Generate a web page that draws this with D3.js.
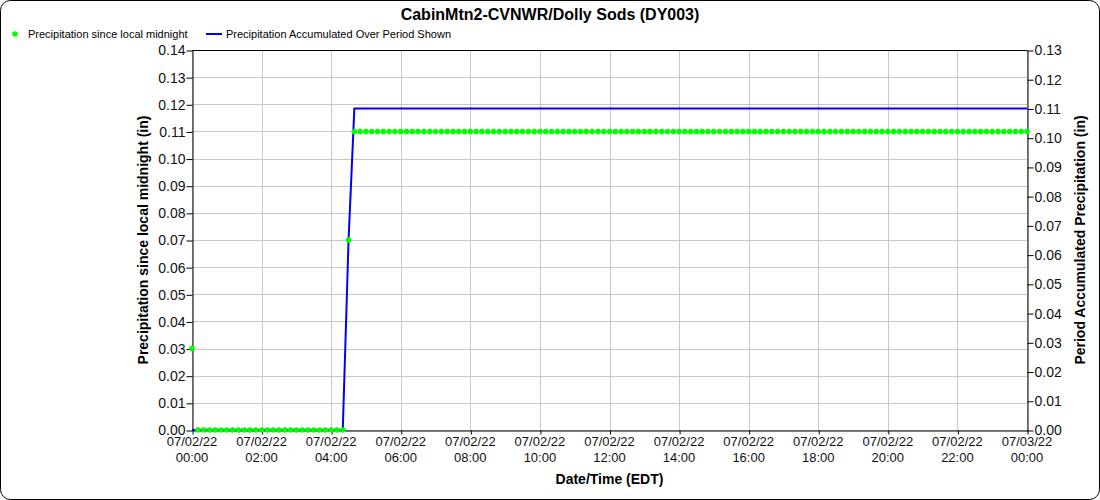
<!DOCTYPE html>
<html>
<head>
<meta charset="utf-8">
<script src="https://cdn.jsdelivr.net/npm/d3@7"></script>
<style>
  html, body { margin: 0; padding: 0; background: #fff; }
  svg { display: block; font-family: "Liberation Sans", Arial, sans-serif; }
</style>
</head>
<body>
<svg id="chart" width="1100" height="500"></svg>
<script>
// ---- data ----
const chartTitle = "CabinMtn2-CVNWR/Dolly Sods (DY003)";
const seriesNames = ["Precipitation since local midnight", "Precipitation Accumulated Over Period Shown"];
const startTime = "2022-07-02T00:00:00";
const endTime = "2022-07-03T00:00:00";
const stepMinutes = 10;
// Precipitation since local midnight (in), every 10 minutes from 07/02/22 00:00
const sinceMidnight = [
  0.03,0,0,0,0,0,0,0,0,0,0,0,0,0,0,0,0,0,0,0,0,0,0,0,0,0,0,
  0.07,
  0.11,0.11,0.11,0.11,0.11,0.11,0.11,0.11,0.11,0.11,0.11,0.11,0.11,0.11,0.11,0.11,0.11,0.11,0.11,0.11,
  0.11,0.11,0.11,0.11,0.11,0.11,0.11,0.11,0.11,0.11,0.11,0.11,0.11,0.11,0.11,0.11,0.11,0.11,0.11,0.11,
  0.11,0.11,0.11,0.11,0.11,0.11,0.11,0.11,0.11,0.11,0.11,0.11,0.11,0.11,0.11,0.11,0.11,0.11,0.11,0.11,
  0.11,0.11,0.11,0.11,0.11,0.11,0.11,0.11,0.11,0.11,0.11,0.11,0.11,0.11,0.11,0.11,0.11,0.11,0.11,0.11,
  0.11,0.11,0.11,0.11,0.11,0.11,0.11,0.11,0.11,0.11,0.11,0.11,0.11,0.11,0.11,0.11,0.11,0.11,0.11,0.11,
  0.11,0.11,0.11,0.11,0.11,0.11,0.11,0.11,0.11,0.11,0.11,0.11,0.11,0.11,0.11,0.11,0.11
];
// Precipitation accumulated over period shown (in), same timestamps
const accumulated = [
  0,0,0,0,0,0,0,0,0,0,0,0,0,0,0,0,0,0,0,0,0,0,0,0,0,0,0,
  0.065,
  0.11,0.11,0.11,0.11,0.11,0.11,0.11,0.11,0.11,0.11,0.11,0.11,0.11,0.11,0.11,0.11,0.11,0.11,0.11,0.11,
  0.11,0.11,0.11,0.11,0.11,0.11,0.11,0.11,0.11,0.11,0.11,0.11,0.11,0.11,0.11,0.11,0.11,0.11,0.11,0.11,
  0.11,0.11,0.11,0.11,0.11,0.11,0.11,0.11,0.11,0.11,0.11,0.11,0.11,0.11,0.11,0.11,0.11,0.11,0.11,0.11,
  0.11,0.11,0.11,0.11,0.11,0.11,0.11,0.11,0.11,0.11,0.11,0.11,0.11,0.11,0.11,0.11,0.11,0.11,0.11,0.11,
  0.11,0.11,0.11,0.11,0.11,0.11,0.11,0.11,0.11,0.11,0.11,0.11,0.11,0.11,0.11,0.11,0.11,0.11,0.11,0.11,
  0.11,0.11,0.11,0.11,0.11,0.11,0.11,0.11,0.11,0.11,0.11,0.11,0.11,0.11,0.11,0.11,0.11
];
const leftTicks = [0,0.01,0.02,0.03,0.04,0.05,0.06,0.07,0.08,0.09,0.10,0.11,0.12,0.13,0.14];
const rightTicks = [0,0.01,0.02,0.03,0.04,0.05,0.06,0.07,0.08,0.09,0.10,0.11,0.12,0.13];
const xTickHours = [0,2,4,6,8,10,12,14,16,18,20,22,24];
const leftLabel = "Precipitation since local midnight (in)";
const rightLabel = "Period Accumulated Precipitation (in)";
const xLabel = "Date/Time (EDT)";

// ---- layout ----
const svg = d3.select("#chart");
const M = { left: 192, right: 1027, top: 50, bottom: 430 };
const t0 = new Date(startTime), t1 = new Date(endTime);
const times = sinceMidnight.map((_, i) => new Date(t0.getTime() + i * stepMinutes * 60000));

const x = d3.scaleTime().domain([t0, t1]).range([M.left, M.right]);
const yL = d3.scaleLinear().domain([0, 0.14]).range([M.bottom, M.top]);
const yR = d3.scaleLinear().domain([0, 0.13]).range([M.bottom, M.top]);

// outer border
svg.append("rect").attr("x", 0.5).attr("y", 0.5).attr("width", 1099).attr("height", 499)
  .attr("rx", 10).attr("fill", "#fff").attr("stroke", "#000");

// title
svg.append("text").attr("x", 550).attr("y", 20).attr("text-anchor", "middle")
  .attr("font-size", 16).attr("font-weight", "bold").text(chartTitle);

// legend
svg.append("circle").attr("cx", 15).attr("cy", 34).attr("r", 2.8).attr("fill", "#00ff00");
svg.append("text").attr("x", 28).attr("y", 38).attr("font-size", 11).text(seriesNames[0]);
svg.append("line").attr("x1", 206).attr("x2", 222).attr("y1", 34).attr("y2", 34)
  .attr("stroke", "#0000ff").attr("stroke-width", 2);
svg.append("text").attr("x", 226).attr("y", 38).attr("font-size", 11).text(seriesNames[1]);

// gridlines
const tickDates = xTickHours.map(h => new Date(t0.getTime() + h * 3600000));
svg.append("g").selectAll("line").data(leftTicks).join("line")
  .attr("x1", M.left).attr("x2", M.right)
  .attr("y1", d => Math.round(yL(d)) + 0.5).attr("y2", d => Math.round(yL(d)) + 0.5)
  .attr("stroke", "#c8c8c8");
svg.append("g").selectAll("line").data(tickDates).join("line")
  .attr("x1", d => Math.round(x(d)) + 0.5).attr("x2", d => Math.round(x(d)) + 0.5)
  .attr("y1", M.top).attr("y2", M.bottom)
  .attr("stroke", "#c8c8c8");

// top border
svg.append("line").attr("x1", M.left).attr("x2", M.right + 0.5)
  .attr("y1", M.top + 0.5).attr("y2", M.top + 0.5).attr("stroke", "#000");

// axes
const fmt = d3.format(".2f");
const gL = svg.append("g").attr("transform", `translate(${M.left + 0.5},0.5)`)
  .call(d3.axisLeft(yL).tickValues(leftTicks).tickFormat(fmt).tickSize(6).tickSizeOuter(0));
const gR = svg.append("g").attr("transform", `translate(${M.right + 0.5},0.5)`)
  .call(d3.axisRight(yR).tickValues(rightTicks).tickFormat(fmt).tickSize(6).tickSizeOuter(0));
const gX = svg.append("g").attr("transform", `translate(0.5,${M.bottom + 0.5})`)
  .call(d3.axisBottom(x).tickValues(tickDates).tickFormat("").tickSize(4).tickSizeOuter(0));
[gL, gR, gX].forEach(g => {
  g.selectAll("path").attr("stroke", "#000");
  g.selectAll("line").attr("stroke", "#000");
  g.selectAll("text").attr("font-size", 14).attr("fill", "#111")
    .attr("font-family", "'Liberation Sans', Arial, sans-serif");
});
gL.selectAll("text").attr("x", -7);
gR.selectAll("text").attr("x", 7);

// x tick labels (two lines)
const fDate = d3.timeFormat("%m/%d/%y"), fTime = d3.timeFormat("%H:%M");
const xl = svg.append("g").selectAll("text").data(tickDates).join("text")
  .attr("x", d => x(d)).attr("y", 446).attr("text-anchor", "middle")
  .attr("font-size", 13).attr("fill", "#111");
xl.append("tspan").attr("x", d => x(d)).text(d => fDate(d));
xl.append("tspan").attr("x", d => x(d)).attr("dy", 16).text(d => fTime(d));

// axis titles
svg.append("text").attr("transform", `translate(148,${(M.top + M.bottom) / 2}) rotate(-90)`)
  .attr("text-anchor", "middle").attr("font-size", 14).attr("font-weight", "bold").text(leftLabel);
svg.append("text").attr("transform", `translate(1085,${(M.top + M.bottom) / 2}) rotate(-90)`)
  .attr("text-anchor", "middle").attr("font-size", 14).attr("font-weight", "bold").text(rightLabel);
svg.append("text").attr("x", (M.left + M.right) / 2).attr("y", 484).attr("text-anchor", "middle")
  .attr("font-size", 14).attr("font-weight", "bold").text(xLabel);

// blue line
const line = d3.line().x((d, i) => x(times[i])).y(d => yR(d));
svg.append("path").datum(accumulated).attr("d", line)
  .attr("fill", "none").attr("stroke", "#0000ff").attr("stroke-width", 2);

// green points
svg.append("g").selectAll("circle").data(sinceMidnight).join("circle")
  .attr("cx", (d, i) => x(times[i])).attr("cy", d => yL(d)).attr("r", 2.8)
  .attr("fill", "#00ff00");
</script>
</body>
</html>
